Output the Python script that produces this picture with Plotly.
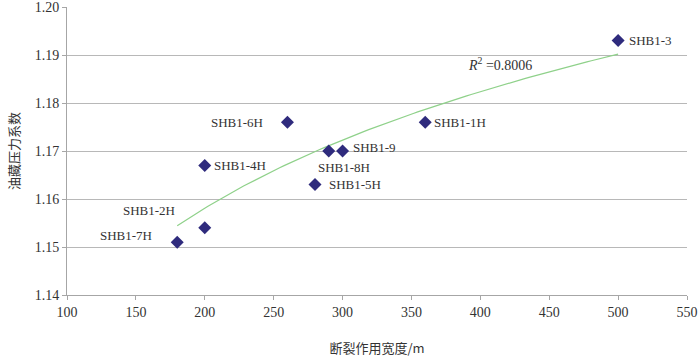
import numpy as np
import plotly.graph_objects as go

# data
wells = ["SHB1-3", "SHB1-1H", "SHB1-6H", "SHB1-9", "SHB1-8H", "SHB1-5H", "SHB1-4H", "SHB1-2H", "SHB1-7H"]
width_m = [500, 360, 260, 300, 290, 280, 200, 200, 180]
pressure_coef = [1.193, 1.176, 1.176, 1.170, 1.170, 1.163, 1.167, 1.154, 1.151]
r2_text = "<i>R</i><sup>2</sup> =0.8006"
x_title = "断裂作用宽度/m"
y_title = "油藏压力系数"

# label placement (styles)
label_xanchor = ["left", "left", "right", "left", "center", "left", "left", "right", "right"]
label_xshift = [9, 7, -22, 8, 15, 12, 7, -28, -23]
label_yshift = [0, 0, 0, 4, -16, 0, 0, 17, 7]

# logarithmic trend line fitted from the data (as the original trendline)
xa = np.array(width_m, dtype=float)
ya = np.array(pressure_coef, dtype=float)
b, a = np.polyfit(np.log(xa), ya, 1)
xt = np.linspace(xa.min(), xa.max(), 100)
yt = a + b * np.log(xt)

FONT = "Liberation Serif, Noto Sans CJK SC, serif"
CJK = "Noto Sans CJK SC, sans-serif"

fig = go.Figure()
fig.add_trace(go.Scatter(x=xt, y=yt, mode="lines",
                         line=dict(color="#8fd18a", width=1.2), hoverinfo="skip"))
fig.add_trace(go.Scatter(x=width_m, y=pressure_coef, mode="markers",
                         marker=dict(symbol="diamond", size=10, color="#2f2b7d"),
                         text=wells))

for w, x, y, xa_, xs, ys in zip(wells, width_m, pressure_coef, label_xanchor, label_xshift, label_yshift):
    fig.add_annotation(x=x, y=y, text=w, showarrow=False, xanchor=xa_, yanchor="middle",
                       xshift=xs, yshift=ys, font=dict(family=FONT, size=13, color="#333"))

fig.add_annotation(x=414, y=1.1881, text=r2_text, showarrow=False, xanchor="center",
                   yanchor="middle", font=dict(family=FONT, size=14, color="#333"))

fig.update_layout(
    width=700, height=363,
    margin=dict(l=67, r=13, t=7, b=68, autoexpand=False),
    paper_bgcolor="white", plot_bgcolor="white",
    showlegend=False,
    font=dict(family=FONT, size=13, color="#333"),
)
fig.update_xaxes(range=[100, 550], dtick=50, tick0=100, showgrid=False, automargin=False,
                 showline=True, linecolor="#a6a6a6", linewidth=1,
                 ticks="outside", ticklen=4, tickcolor="#a6a6a6",
                 tickfont=dict(family=FONT, size=14, color="#333"),
                 ticklabeloverflow="allow",
                 zeroline=False,
                 title=dict(text=x_title, font=dict(family=CJK, size=13, color="#333"), standoff=25))
fig.update_yaxes(range=[1.14, 1.20], dtick=0.01, tick0=1.14, tickformat=".2f", automargin=False,
                 showgrid=True, gridcolor="#b8b8b8", gridwidth=1,
                 showline=True, linecolor="#a6a6a6", linewidth=1,
                 ticks="outside", ticklen=4, tickcolor="#a6a6a6",
                 tickfont=dict(family=FONT, size=14, color="#333"),
                 ticklabeloverflow="allow",
                 zeroline=False,
                 title=dict(text=y_title, font=dict(family=CJK, size=13, color="#333"), standoff=12))

fig.write_html("out.html", config={"displayModeBar": False},
               post_script="document.body.style.margin='0';")
